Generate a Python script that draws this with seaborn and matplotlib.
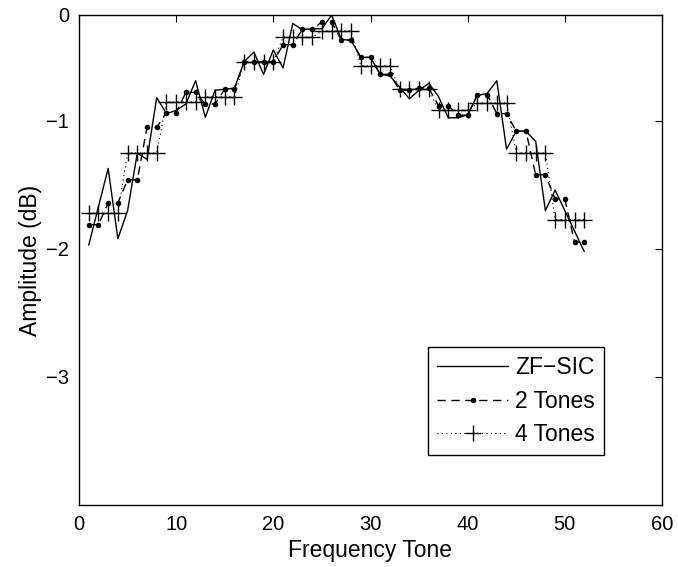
import numpy as np
import pandas as pd
import matplotlib
matplotlib.use("Agg")
import matplotlib.pyplot as plt
import seaborn as sns

# ---------------- data ----------------
tones = list(range(1, 53))

zf_sic = [-1.97, -1.67, -1.37, -1.92, -1.70, -1.25, -1.30, -0.78, -0.93, -0.90,
          -0.84, -0.62, -0.965, -0.71, -0.70, -0.69, -0.44, -0.35, -0.56, -0.33,
          -0.50, -0.08, -0.14, -0.13, -0.13, 0.00, -0.23, -0.24, -0.40, -0.40,
          -0.56, -0.575, -0.68, -0.79, -0.71, -0.645, -0.77, -0.97, -0.97, -0.94,
          -0.76, -0.74, -0.62, -1.22, -1.08, -1.08, -1.16, -1.70, -1.54, -1.70,
          -1.86, -2.02]

two_tones = [-1.81, -1.81, -1.64, -1.64, -1.46, -1.46, -1.05, -1.05, -0.92, -0.92,
             -0.73, -0.73, -0.84, -0.84, -0.70, -0.70, -0.44, -0.44, -0.44, -0.44,
             -0.28, -0.28, -0.135, -0.135, -0.066, -0.066, -0.236, -0.236, -0.40, -0.40,
             -0.56, -0.56, -0.71, -0.71, -0.69, -0.69, -0.855, -0.855, -0.945, -0.945,
             -0.75, -0.75, -0.93, -0.93, -1.08, -1.08, -1.42, -1.42, -1.61, -1.61,
             -1.945, -1.945]

four_tones = [-1.72, -1.72, -1.72, -1.72, -1.25, -1.25, -1.25, -1.25,
              -0.82, -0.82, -0.82, -0.82, -0.77, -0.77, -0.77, -0.77,
              -0.44, -0.44, -0.44, -0.44, -0.21, -0.21, -0.21, -0.21,
              -0.15, -0.15, -0.15, -0.15, -0.48, -0.48, -0.48, -0.48,
              -0.70, -0.70, -0.70, -0.70, -0.90, -0.90, -0.90, -0.90,
              -0.83, -0.83, -0.83, -0.83, -1.25, -1.25, -1.25, -1.25,
              -1.77, -1.77, -1.77, -1.77]

series_names = ["ZF\u2212SIC", "2 Tones", "4 Tones"]
x_ticks = [0, 10, 20, 30, 40, 50, 60]
y_ticks = [0, -1, -2, -3]
y_tick_labels = ["0", "\u22121", "\u22122", "\u22123"]

# ---------------- style ----------------
sns.set_style("white")
plt.rcParams["font.family"] = ["Liberation Sans", "DejaVu Sans"]
plt.rcParams["axes.unicode_minus"] = True
plt.rcParams["text.color"] = "black"
plt.rcParams["axes.labelcolor"] = "black"
plt.rcParams["xtick.color"] = "black"
plt.rcParams["ytick.color"] = "black"

fig = plt.figure(figsize=(6.78, 5.67), dpi=100)
ax = fig.add_axes([79 / 678, (567 - 505) / 567, (662 - 79) / 678, 490 / 567])

df = pd.DataFrame({"tone": tones, "zf": zf_sic, "t2": two_tones, "t4": four_tones})

sns.lineplot(data=df, x="tone", y="zf", ax=ax, color="black", linewidth=1.0,
             linestyle="-", label=series_names[0])
sns.lineplot(data=df, x="tone", y="t2", ax=ax, color="black", linewidth=1.0,
             linestyle=(0, (6, 4)), marker="o", markersize=4.0,
             markeredgewidth=0, markerfacecolor="black", markeredgecolor="black",
             label=series_names[1])
sns.lineplot(data=df, x="tone", y="t4", ax=ax, color="black", linewidth=0.8,
             linestyle=(0, (1, 3)), marker="+", markersize=11,
             markeredgewidth=1.0, markeredgecolor="black", label=series_names[2])

# piecewise y scale reproducing the reference's axis spacing
k = 106.0 / 128.0


def fwd(y):
    y = np.asarray(y, dtype=float)
    return np.where(y >= -1, k * y, -k + (y + 1))


def inv(t):
    t = np.asarray(t, dtype=float)
    return np.where(t >= -k, t / k, t + k - 1)


ax.set_yscale("function", functions=(fwd, inv))
ax.set_xlim(0, 60)
ax.set_ylim(-4, 0)
ax.set_xticks(x_ticks)
ax.set_yticks(y_ticks)
ax.set_yticklabels(y_tick_labels)
ax.minorticks_off()

ax.tick_params(axis="both", which="major", direction="in", length=5, width=0.8,
               top=True, right=True, labelsize=14.5, colors="black",
               labelcolor="black", pad=7)
for sp in ax.spines.values():
    sp.set_visible(True)
    sp.set_color("black")
    sp.set_linewidth(1.0)

ax.set_xlabel("Frequency Tone", fontsize=16.5, labelpad=4, color="black")
ax.set_ylabel("Amplitude (dB)", fontsize=16.5, labelpad=3, color="black")

leg = ax.legend(loc="upper left", bbox_to_anchor=(0.599, 0.322), borderaxespad=0,
                fontsize=16.5, frameon=True, fancybox=False, edgecolor="black",
                handlelength=3.1, handletextpad=0.3, borderpad=0.4,
                labelspacing=0.45, numpoints=1)
leg.get_frame().set_linewidth(1.0)
leg.get_frame().set_alpha(1)
for t in leg.get_texts():
    t.set_color("black")

fig.savefig("out.png", dpi=100)
